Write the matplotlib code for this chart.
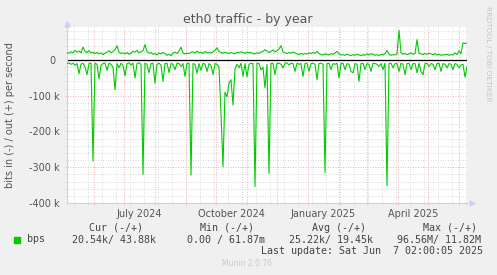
import numpy as np
import pandas as pd
import matplotlib
matplotlib.use("Agg")
import matplotlib.pyplot as plt
from matplotlib.patches import Rectangle

# Tamaño de la imagen en pixeles
W, H = 497, 275

# Datos: una muestra cada 2 dias desde el inicio (valores en kbit/s)
inicio = pd.Timestamp("2024-05-05")
paso_dias = 2

out_kbps = [
    21, 19, 23, 20, 27, 22, 25, 20, 36, 24, 21, 26, 19, 22, 18, 21, 17, 20, 15, 19,
    22, 26, 20, 24, 29, 40, 22, 18, 20, 17, 21, 16, 19, 24, 22, 27, 20, 23, 26, 43,
    24, 19, 21, 16, 18, 14, 20, 17, 21, 18, 13, 16, 12, 19, 22, 18, 25, 36, 20, 17,
    19, 18, 21, 23, 19, 25, 20, 22, 18, 24, 20, 22, 19, 23, 27, 34, 24, 21, 19, 22,
    20, 18, 21, 19, 17, 22, 20, 23, 21, 19, 22, 20, 21, 18, 17, 20, 19, 22, 24, 29,
    25, 21, 24, 28, 22, 26, 31, 40, 23, 20, 18, 21, 19, 22, 20, 17, 15, 19, 16, 18,
    17, 20, 18, 21, 19, 24, 18, 15, 14, 17, 16, 14, 18, 16, 20, 24, 17, 14, 15, 13,
    16, 14, 12, 15, 13, 16, 14, 12, 15, 13, 17, 14, 18, 16, 13, 15, 12, 16, 14, 18,
    27, 16, 13, 15, 14, 17, 83, 20, 16, 18, 15, 17, 20, 16, 18, 57, 19, 17, 15, 18,
    16, 19, 17, 15, 18, 14, 16, 13, 15, 14, 16, 13, 15, 14, 20, 15, 26, 17, 48, 46,
    47,
]

# trafico de entrada (se dibuja en negativo)
in_kbps = [
    10, 8, 12, 9, 15, 10, 38, 12, 9, 20, 41, 10, 9, 283, 9, 12, 53, 15, 10, 8,
    29, 9, 12, 20, 83, 10, 22, 9, 15, 44, 10, 8, 14, 9, 50, 10, 8, 12, 320, 9,
    12, 36, 10, 9, 65, 12, 9, 14, 60, 10, 9, 35, 10, 12, 27, 9, 10, 18, 10, 46,
    10, 9, 322, 10, 12, 37, 10, 29, 9, 12, 32, 10, 15, 41, 10, 12, 20, 150, 298, 90,
    103, 65, 55, 126, 25, 12, 22, 9, 46, 10, 47, 12, 9, 10, 354, 9, 10, 28, 20, 78,
    12, 317, 10, 9, 41, 10, 9, 12, 22, 9, 8, 14, 9, 10, 32, 9, 12, 10, 46, 10,
    9, 32, 10, 9, 12, 55, 10, 9, 12, 315, 10, 9, 27, 10, 12, 9, 50, 10, 9, 27,
    10, 12, 32, 36, 10, 12, 60, 10, 9, 27, 10, 12, 32, 9, 10, 12, 18, 10, 27, 9,
    352, 10, 9, 22, 10, 10, 32, 9, 12, 41, 10, 9, 27, 10, 10, 36, 9, 32, 41, 10,
    9, 18, 10, 12, 27, 10, 9, 32, 10, 12, 22, 10, 12, 27, 10, 12, 22, 14, 12, 48,
    18,
]

ytick_vals = [-400000, -300000, -200000, -100000, 0]
ytick_labels = ["-400 k", "-300 k", "-200 k", "-100 k", "0 "]
xlabel_fechas = ["2024-07-16", "2024-10-16", "2025-01-16", "2025-04-16"]
xlabel_textos = ["July 2024", "October 2024", "January 2025", "April 2025"]

cabeceras = ["Cur (-/+)", "Min (-/+)", "Avg (-/+)", "Max (-/+)"]
valores = ["20.54k/ 43.88k", "0.00 / 61.87m", "25.22k/ 19.45k", "96.56M/ 11.82M"]
ultima = "Last update: Sat Jun  7 02:00:05 2025"

verde = "#00cc00"
gris_txt = "#555555"
eje = "#cdd0f4"
gris_rej = "#dcdcdc"
rojo_rej = "#f2b4b4"

dias = inicio + pd.to_timedelta(np.arange(len(out_kbps)) * paso_dias, unit="D")
fin = inicio + pd.Timedelta(days=400)

fig = plt.figure(figsize=(W / 100, H / 100), dpi=100, facecolor="#f0f0f0")
ax = fig.add_axes([67 / W, (H - 203) / H, 400 / W, 176 / H], facecolor="white")

ax.set_xlim(inicio, fin)
ax.set_ylim(-400000, 92300)

# rejilla horizontal: menor cada 20k, mayor cada 100k
for y in range(-380000, 92300, 20000):
    if y == 0:
        continue
    col = rojo_rej if y % 100000 == 0 else gris_rej
    ax.axhline(y, xmin=-0.006, xmax=1, color=col, lw=0.72, dashes=(1, 1.5),
               clip_on=False, zorder=1)

# rejilla vertical: cada 14 dias (gris) y cada mes (rojo)
for d in pd.date_range("2024-05-12", fin, freq="14D"):
    ax.axvline(d, ymin=-0.012, ymax=1, color=gris_rej, lw=0.72, dashes=(1, 1.5),
               clip_on=False, zorder=1)
for d in pd.date_range("2024-06-01", fin, freq="MS"):
    ax.axvline(d, ymin=-0.012, ymax=1, color=rojo_rej, lw=0.72, dashes=(1, 1.5),
               clip_on=False, zorder=1.1)

ax.plot(dias, np.array(out_kbps) * 1000, color=verde, lw=0.8, zorder=3)
ax.plot(dias, -np.array(in_kbps) * 1000, color=verde, lw=0.8, zorder=3)
ax.axhline(0, color="black", lw=0.9, zorder=2.5)

for s in ["top", "right"]:
    ax.spines[s].set_visible(False)
for s in ["left", "bottom"]:
    ax.spines[s].set_color(eje)
    ax.spines[s].set_linewidth(0.8)

# flechas de los ejes
ax.plot([0], [1 + 3.5 / 176], marker="^", ms=3.5, color=eje, transform=ax.transAxes, clip_on=False)
ax.plot([1 + 4.5 / 400], [0], marker=">", ms=3.5, color=eje, transform=ax.transAxes, clip_on=False)

ax.set_yticks(ytick_vals)
ax.set_yticklabels(ytick_labels)
ax.set_xticks(pd.to_datetime(xlabel_fechas))
ax.set_xticklabels(xlabel_textos)
ax.tick_params(axis="y", length=0, pad=5.5, labelsize=7, labelcolor=gris_txt)
ax.tick_params(axis="x", length=0, pad=4, labelsize=7, labelcolor=gris_txt)
ax.minorticks_off()

fig.text(248 / W, 1 - 19 / H, "eth0 traffic - by year", ha="center", va="center",
         fontsize=9, color=gris_txt)
fig.text(10.5 / W, 1 - 115 / H, "bits in (-) / out (+) per second", rotation=90,
         ha="center", va="center", fontsize=7, color=gris_txt)
fig.text(488 / W, 1 - 54 / H, "RRDTOOL / TOBI OETIKER", rotation=270,
         ha="center", va="center", fontsize=5.4, color="#c4c4c4")

# leyenda estilo munin
mono = dict(family="DejaVu Sans Mono", fontsize=7.2, color="#444444", va="center")
for x, t in zip([89, 200, 312, 423], cabeceras):
    fig.text(x / W, 1 - 228 / H, t, ha="left", **mono)
fig.text(27 / W, 1 - 239.5 / H, "bps", ha="left", **mono)
for x, t in zip([72, 187, 289, 397], valores):
    fig.text(x / W, 1 - 239.5 / H, t, ha="left", **mono)
fig.text(483 / W, 1 - 250.5 / H, ultima, ha="right", **mono)
fig.patches.append(Rectangle((14 / W, 1 - 242.5 / H), 6 / W, 6 / H,
                             transform=fig.transFigure, color=verde))
fig.text(247 / W, 1 - 264 / H, "Munin 2.0.76", ha="center", va="center",
         fontsize=5.5, color="#c8c8c8")

fig.savefig("out.png", dpi=100, facecolor=fig.get_facecolor())
